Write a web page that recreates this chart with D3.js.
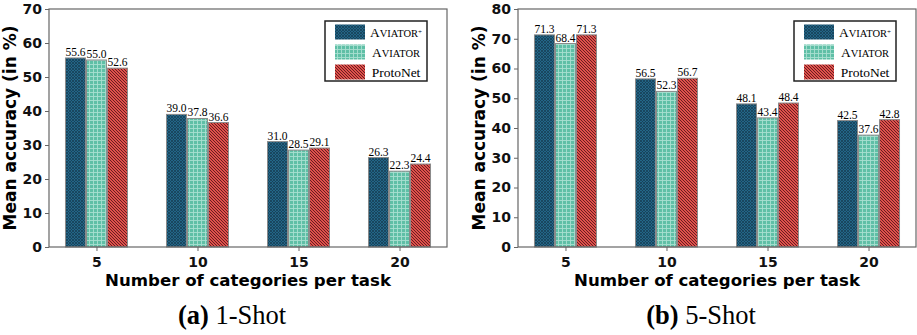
<!DOCTYPE html>
<html>
<head>
<meta charset="utf-8">
<script src="https://cdn.jsdelivr.net/npm/d3@7"></script>
<style>
  body { margin: 0; background: #fff; }
  svg text { font-family: "DejaVu Sans", sans-serif; }
</style>
</head>
<body>
<div id="chart-area"></div>
<script>
// data
const categories = ["5", "10", "15", "20"];
const seriesNames = ["AVIATOR+", "AVIATOR", "ProtoNet"];
const oneShotPlus = [55.6, 39.0, 31.0, 26.3];
const oneShotAviator = [55.0, 37.8, 28.5, 22.3];
const oneShotProto = [52.6, 36.6, 29.1, 24.4];
const fiveShotPlus = [71.3, 56.5, 48.1, 42.5];
const fiveShotAviator = [68.4, 52.3, 43.4, 37.6];
const fiveShotProto = [71.3, 56.7, 48.4, 42.8];
const oneShotTicks = [0, 10, 20, 30, 40, 50, 60, 70];
const fiveShotTicks = [0, 10, 20, 30, 40, 50, 60, 70, 80];

const W = 917, H = 335;
const svg = d3.select("#chart-area")
  .append("svg")
  .attr("width", W)
  .attr("height", H);

// hatch patterns
const defs = svg.append("defs");

const p1 = defs.append("pattern").attr("id", "pat0")
  .attr("patternUnits", "userSpaceOnUse").attr("width", 3).attr("height", 3);
p1.append("rect").attr("width", 3).attr("height", 3).attr("fill", "#236687");
p1.append("path").attr("d", "M0,0L3,3M3,0L0,3").attr("stroke", "#163f55").attr("stroke-width", 0.8);

const p2 = defs.append("pattern").attr("id", "pat1")
  .attr("patternUnits", "userSpaceOnUse").attr("width", 4).attr("height", 4);
p2.append("rect").attr("width", 4).attr("height", 4).attr("fill", "#5fbfa6");
p2.append("path").attr("d", "M0,0.5H4M0.5,0V4").attr("stroke", "#a8e0d0").attr("stroke-width", 0.9);

const p3 = defs.append("pattern").attr("id", "pat2")
  .attr("patternUnits", "userSpaceOnUse").attr("width", 3).attr("height", 3);
p3.append("rect").attr("width", 3).attr("height", 3).attr("fill", "#e0504c");
p3.append("path").attr("d", "M-1,-1L4,4M-1,2L1,4M2,-1L4,1").attr("stroke", "#5a1a1a").attr("stroke-width", 0.9);

const fills = ["url(#pat0)", "url(#pat1)", "url(#pat2)"];

function drawPanel(left, series, ticks, yMax, caption) {
  const plotW = 398, top = 9, bottom = 247;
  const g = svg.append("g").attr("transform", `translate(${left},0)`);

  const x = d3.scalePoint()
    .domain(categories)
    .range([0, plotW])
    .padding(0.47);

  const y = d3.scaleLinear()
    .domain([0, yMax])
    .range([bottom, top]);

  const xs = d3.scaleBand()
    .domain(seriesNames)
    .range([-31, 31])
    .paddingInner(0.05);

  // bars
  series.forEach((vals, si) => {
    g.selectAll(null)
      .data(vals)
      .enter()
      .append("rect")
      .attr("x", (d, i) => x(categories[i]) + xs(seriesNames[si]))
      .attr("y", d => y(d))
      .attr("width", xs.bandwidth())
      .attr("height", d => bottom - y(d))
      .attr("fill", fills[si])
      .attr("stroke", "#8a8a8a")
      .attr("stroke-width", 1);

    g.selectAll(null)
      .data(vals)
      .enter()
      .append("text")
      .attr("x", (d, i) => x(categories[i]) + xs(seriesNames[si]) + xs.bandwidth() / 2)
      .attr("y", d => y(d) - 2)
      .attr("text-anchor", "middle")
      .style("font-family", "'Liberation Serif', serif")
      .attr("font-size", "11.5px")
      .text(d => d.toFixed(1));
  });

  // frame
  g.append("rect")
    .attr("x", 0).attr("y", top)
    .attr("width", plotW).attr("height", bottom - top)
    .attr("fill", "none")
    .attr("stroke", "#666")
    .attr("stroke-width", 1.2);

  const xAxis = g.append("g")
    .attr("transform", `translate(0,${bottom})`)
    .call(d3.axisBottom(x).tickSize(4).tickSizeOuter(0));
  const yAxis = g.append("g")
    .call(d3.axisLeft(y).tickValues(ticks).tickSize(4).tickSizeOuter(0));

  [xAxis, yAxis].forEach(a => {
    a.select(".domain").remove();
    a.selectAll("line").attr("stroke", "#666");
    a.selectAll("text")
      .attr("font-size", "14px")
      .attr("font-weight", "bold")
      .attr("fill", "#111");
  });
  xAxis.selectAll("text").attr("dy", "0.9em");

  // axis titles
  g.append("text")
    .attr("x", plotW / 2)
    .attr("y", 286)
    .attr("text-anchor", "middle")
    .attr("font-size", "16.6px")
    .attr("font-weight", "bold")
    .text("Number of categories per task");

  g.append("text")
    .attr("transform", "rotate(-90)")
    .attr("x", -128)
    .attr("y", -33)
    .attr("text-anchor", "middle")
    .attr("font-size", "17px")
    .attr("font-weight", "bold")
    .text("Mean accuracy (in %)");

  // legend
  const lg = g.append("g").attr("transform", `translate(${plotW - 122},21)`);
  lg.append("rect")
    .attr("width", 102).attr("height", 60)
    .attr("fill", "#fff")
    .attr("stroke", "#222")
    .attr("stroke-width", 1.5);
  seriesNames.forEach((name, i) => {
    lg.append("rect")
      .attr("x", 10).attr("y", 3.5 + i * 20)
      .attr("width", 30).attr("height", 15)
      .attr("fill", fills[i]);
    const t = lg.append("text")
      .attr("x", 71).attr("y", 15.5 + i * 20)
      .attr("text-anchor", "middle")
      .style("font-family", "'Liberation Serif', serif")
      .attr("font-size", "13.5px");
    if (name === "ProtoNet") {
      t.text("ProtoNet");
    } else {
      t.append("tspan").text("A");
      t.append("tspan").attr("font-size", "10.5px").text("VIATOR");
      if (name === "AVIATOR+") {
        t.append("tspan").attr("font-size", "7px").attr("dy", -3).text("+");
      }
    }
  });

  // caption
  const c = g.append("text")
    .attr("x", plotW / 2 - 16)
    .attr("y", 324)
    .attr("text-anchor", "middle")
    .style("font-family", "'Liberation Serif', serif")
    .attr("font-size", "26.5px");
  c.append("tspan").attr("font-weight", "bold").text(caption[0]);
  c.append("tspan").text(" " + caption[1]);
}

drawPanel(49, [oneShotPlus, oneShotAviator, oneShotProto], oneShotTicks, 70, ["(a)", "1-Shot"]);
drawPanel(518, [fiveShotPlus, fiveShotAviator, fiveShotProto], fiveShotTicks, 80, ["(b)", "5-Shot"]);
</script>
</body>
</html>
